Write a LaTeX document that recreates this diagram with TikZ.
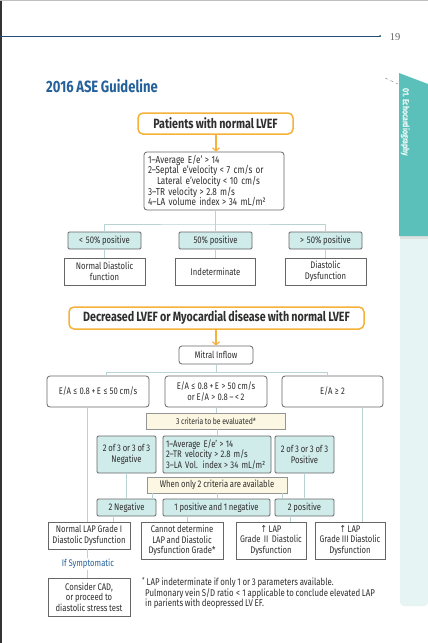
\documentclass[tikz,border=0pt]{standalone}
\usepackage{fontspec}
\setmainfont[FakeStretch=0.8,WordSpace=0.85]{Fira Sans}
\newfontfamily\pagenum{Liberation Serif}
\newfontfamily\dv[FakeStretch=0.8]{DejaVu Sans}
\usetikzlibrary{arrows.meta}
\definecolor{orng}{HTML}{F6B13A}
\definecolor{tealf}{HTML}{CFEBEA}
\definecolor{cream}{HTML}{FCF7E2}
\definecolor{connc}{HTML}{B9D2D3}
\definecolor{bord}{HTML}{666666}
\definecolor{ttl}{HTML}{24619A}
\definecolor{tabc}{HTML}{5CC0BA}
\definecolor{tabl}{HTML}{E6F4F4}
\definecolor{txt}{HTML}{2E2E2E}
\definecolor{hline}{HTML}{1F4E79}
\newcommand{\rl}[1]{\hspace{0.25em}#1\hspace{0.25em}}
\tikzset{
  box/.style={draw=bord, line width=0.8pt, fill=white, align=center, inner sep=1pt,
    font=\fontsize{9.6}{10.6}\selectfont, text=txt},
  rbox/.style={box, rounded corners=3pt},
  tbox/.style={box, fill=tealf, rounded corners=1.2pt},
  cbox/.style={box, fill=cream, draw=bord!70, line width=0.6pt},
  obox/.style={draw=orng, line width=1.5pt, rounded corners=5pt, fill=white, text=txt,
    font=\bfseries\fontsize{13.4}{14}\selectfont, inner sep=1pt},
  connl/.style={draw=connc, line width=0.9pt},
  oarr/.style={draw=orng, line width=1.2pt, -{Straight Barb[length=3pt,width=7pt]}},
}
\newcommand{\upar}{{\dv ↑}}
\begin{document}
\begin{tikzpicture}[x=1pt,y=-1pt]
\useasboundingbox (0,0) rectangle (428,643);
% page frame
\fill[white] (0,0) rectangle (428,643);
\draw[black!80, line width=1.5pt] (0.75,0) -- (0.75,643);
\draw[black!25, line width=1pt] (0,0.5) -- (428,0.5);
% header
\coordinate (hl0) at (0,36);
\coordinate (hl1) at (380,36);
\draw[hline, line width=0.8pt] (hl0) -- (hl1);
\fill[hline] (hl1) circle (1pt);
\node[font=\pagenum\fontsize{10.5}{11}\selectfont, text=black!60] (pg) at (395,37) {19};
\node[anchor=west, font=\bfseries\fontsize{16.3}{17}\selectfont, text=ttl, inner sep=0] (title) at (46,86) {2016 ASE Guideline};
% side tab
\fill[tabl, rounded corners=4pt] (400,230) -- (400,606) -- (428,606) -- (428,230) -- cycle;
\fill[black!12] (400,236) rectangle (428,239);
\fill[tabc] (399,73) -- (428,84) -- (428,236) -- (399,236) -- cycle;
\draw[black!50, dashed, line width=0.4pt] (385,78) -- (398,84);
\node[rotate=-90, anchor=west, text=white, font=\bfseries\fontsize{8.8}{9}\selectfont, inner sep=0] (tabtxt) at (405.5,88) {01. Echocardiography};

% ---------- top flow ----------
\node[obox, minimum width=155pt, minimum height=21pt] (p1) at (215.5,123.5) {Patients with normal LVEF};
\node[rbox, minimum width=140pt, minimum height=58pt, text width=132pt, align=left,
  font=\fontsize{10.2}{10.7}\selectfont] (crit) at (214,181)
  {1–Average E/e’\rl{>}14\\2–Septal e’velocity\rl{<}7 cm/s or\\\hspace*{9pt}Lateral e’velocity\rl{<}10 cm/s\\3–TR velocity\rl{>}2.8 m/s\\4–LA volume index\rl{>}34 mL/m²};
\draw[oarr] (p1.south -| crit.north) ++(2,0) coordinate (a1s) -- (a1s |- crit.north);

\coordinate (j1) at (215.5,224);
\node[tbox, minimum width=73pt, minimum height=17pt] (t1) at (104.5,240.5) {<\hspace{0.3em}50\% positive};
\node[tbox, minimum width=73pt, minimum height=17pt] (t2) at (215.5,240.5) {50\% positive};
\node[tbox, minimum width=73pt, minimum height=17pt] (t3) at (325.5,240.5) {>\hspace{0.3em}50\% positive};
\node[box, minimum width=81pt, minimum height=27pt] (r1) at (104.5,271.5) {Normal Diastolic\\function};
\node[box, minimum width=80pt, minimum height=27pt] (r2) at (215.5,271.5) {Indeterminate};
\node[box, minimum width=81pt, minimum height=27pt] (r3) at (325.5,271.5) {Diastolic\\Dysfunction};
\draw[connl] (t1.north) |- (j1) -| (t3.north);
\draw[connl] (crit.south -| t2.north) -- (t2.north);
\draw[connl] (t1) -- (r1);
\draw[connl] (t2) -- (r2);
\draw[connl] (t3) -- (r3);

% ---------- bottom flow ----------
\node[obox, minimum width=295pt, minimum height=22pt] (p2) at (216.5,318) {Decreased LVEF or Myocardial disease with normal LVEF};
\node[rbox, minimum width=74pt, minimum height=18pt] (mit) at (216,355) {Mitral Inflow};
\draw[oarr] (p2.south -| mit.north) -- (mit.north);

\node[rbox, minimum width=102pt, minimum height=31pt] (e1) at (98,391.5) {E/A\rl{≤}0.8\,+\,E\rl{≤}50 cm/s};
\node[rbox, minimum width=102pt, minimum height=31pt] (e2) at (216,391.5) {E/A\rl{≤}0.8\,+\,E\rl{>}50 cm/s\\or E/A\rl{>}0.8 –\,< 2};
\node[rbox, minimum width=101pt, minimum height=31pt] (e3) at (332.5,391.5) {E/A\rl{≥}2};
\coordinate (j2) at (216,372);
\coordinate (k1) at (106,372);
\coordinate (k3) at (327,372);
\draw[connl] (mit.south) -- (j2);
\draw[connl] (k1 |- e1.north) -- (k1) -- (k3) -- (k3 |- e3.north);

\node[cbox, minimum width=139pt, minimum height=16pt, font=\fontsize{8.6}{9}\selectfont] (c3) at (216,421) {3 criteria to be evaluated*};
\node[tbox, minimum width=59pt, minimum height=37pt] (m1) at (126.5,454.5) {2 of 3 or 3 of 3\\Negative};
\node[tbox, minimum width=108pt, minimum height=37pt, text width=102pt, align=left] (m2) at (217,454.5)
  {1–Average E/e’\rl{>}14\\2–TR velocity\rl{>}2.8 m/s\\3–LA Vol. index\rl{>}34 mL/m²};
\node[tbox, minimum width=59pt, minimum height=37pt] (m3) at (304.5,454.5) {2 of 3 or 3 of 3\\Positive};
\node[cbox, minimum width=140pt, minimum height=16pt] (w) at (217,485) {When only 2 criteria are available};
\node[tbox, minimum width=59pt, minimum height=17pt] (s1) at (126.5,507.5) {2 Negative};
\node[tbox, minimum width=107pt, minimum height=17pt] (s2) at (216.5,507.5) {1 positive and 1 negative};
\node[tbox, minimum width=59pt, minimum height=17pt] (s3) at (304.5,507.5) {2 positive};

\node[box, minimum width=82pt, minimum height=27pt] (n1) at (89,535.5) {Normal LAP Grade I\\Diastolic Dysfunction};
\node[box, minimum width=82pt, minimum height=37pt] (n2) at (182,540.5) {Cannot determine\\LAP and Diastolic\\Dysfunction Grade*};
\node[box, minimum width=70pt, minimum height=37pt] (n3) at (271,540.5) {\upar\,LAP\\Grade\, II\, Diastolic\\Dysfunction};
\node[box, minimum width=70pt, minimum height=37pt] (n4) at (350,540.5) {\upar\,LAP\\Grade III Diastolic\\Dysfunction};

\node[text=ttl, font=\fontsize{9.6}{10}\selectfont, inner sep=1pt] (sym) at (88,564) {If Symptomatic};
\node[box, minimum width=82pt, minimum height=38pt] (cad) at (89,597) {Consider CAD,\\or proceed to\\diastolic stress test};

% connectors bottom
\coordinate (q1) at (87,0);
\coordinate (q3) at (362,0);
\draw[connl] (e1.south -| q1) -- (n1.north -| q1);
\draw[connl] (e3.south -| q3) -- (n4.north -| q3);
\draw[connl] (e2) -- (c3);
\draw[connl] (c3.south -| m2.north) -- (m2.north);
\draw[connl] (m1) -- (s1);
\draw[connl] (m3) -- (s3);
\coordinate (u1) at (152,0);
\coordinate (u2) at (217,0);
\coordinate (u3) at (282,0);
\draw[connl] (w.south -| u1) -- (s1.north -| u1);
\draw[connl] (w.south -| u2) -- (s2.north -| u2);
\draw[connl] (w.south -| u3) -- (s3.north -| u3);
\coordinate (v1) at (113,0);
\coordinate (v2) at (187,0);
\coordinate (v3) at (290,0);
\draw[connl] (s1.south -| v1) -- (n1.north -| v1);
\draw[connl] (s2.south -| v2) -- (n2.north -| v2);
\draw[connl] (s3.south -| v3) -- (n3.north -| v3);
\draw[connl] (n1.south -| q1) -- (sym.north -| q1);
\draw[connl] (sym.south -| q1) -- (cad.north -| q1);

\node[anchor=north west, align=left, text=txt, font=\fontsize{9.8}{10.2}\selectfont, inner sep=0] (foot) at (142,577)
  {\textsuperscript{*}\,LAP indeterminate if only 1 or 3 parameters available.\\
   \hspace*{3pt}Pulmonary vein S/D ratio\rl{<}1 applicable to conclude elevated LAP\\
   \hspace*{3pt}in parients with deopressed LV EF.};
\end{tikzpicture}
\end{document}
